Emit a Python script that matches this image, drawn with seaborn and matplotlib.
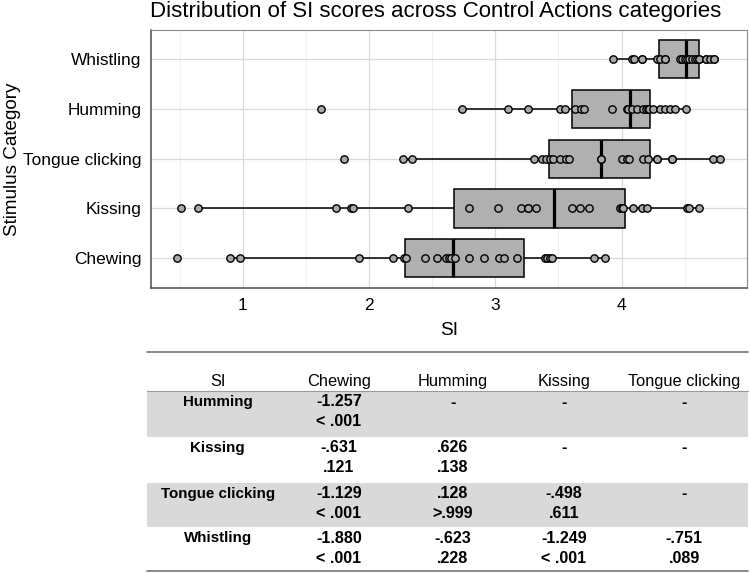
import matplotlib
matplotlib.use("Agg")
import matplotlib.pyplot as plt
from matplotlib.patches import Rectangle
from matplotlib.lines import Line2D
import seaborn as sns
import pandas as pd

# ---------------- data ----------------
categories = ["Whistling", "Humming", "Tongue clicking", "Kissing", "Chewing"]

whistling = [3.93, 4.08, 4.10, 4.16, 4.16, 4.28, 4.30, 4.34, 4.34, 4.46, 4.48, 4.50,
             4.52, 4.53, 4.56, 4.58, 4.60, 4.61, 4.61, 4.67, 4.67, 4.70, 4.73, 4.73]
humming = [1.62, 2.74, 3.10, 3.26, 3.51, 3.55, 3.63, 3.68, 3.70, 3.92, 4.04, 4.05,
           4.08, 4.12, 4.17, 4.19, 4.21, 4.22, 4.25, 4.30, 4.34, 4.38, 4.42, 4.51]
tongue_clicking = [1.80, 2.27, 2.34, 3.31, 3.37, 3.40, 3.43, 3.46, 3.51, 3.56, 3.58, 3.84,
                   3.84, 4.00, 4.04, 4.06, 4.17, 4.21, 4.28, 4.28, 4.40, 4.40, 4.72, 4.78]
kissing = [0.51, 0.65, 1.74, 1.86, 1.87, 2.31, 2.79, 3.02, 3.20, 3.26, 3.26, 3.32,
           3.61, 3.67, 3.74, 3.99, 4.00, 4.01, 4.09, 4.16, 4.20, 4.52, 4.53, 4.61]
chewing = [0.48, 0.90, 0.98, 1.92, 2.19, 2.28, 2.29, 2.44, 2.54, 2.61, 2.63, 2.65,
           2.68, 2.79, 2.91, 3.03, 3.07, 3.17, 3.39, 3.41, 3.43, 3.45, 3.78, 3.87]

x_ticks = [1, 2, 3, 4]
x_minor = [0.5, 1.5, 2.5, 3.5, 4.5]

title_text = "Distribution of SI scores across Control Actions categories"
x_label = "SI"
y_label = "Stimulus Category"

table_header = ["SI", "Chewing", "Humming", "Kissing", "Tongue clicking"]
table_rows = ["Humming", "Kissing", "Tongue clicking", "Whistling"]
table_estimates = [["-1.257", "-", "-", "-"],
                   ["-.631", ".626", "-", "-"],
                   ["-1.129", ".128", "-.498", "-"],
                   ["-1.880", "-.623", "-1.249", "-.751"]]
table_pvalues = [["< .001", "", "", ""],
                 [".121", ".138", "", ""],
                 ["< .001", ">.999", ".611", ""],
                 ["< .001", ".228", "< .001", ".089"]]

series = {"Whistling": whistling, "Humming": humming, "Tongue clicking": tongue_clicking,
          "Kissing": kissing, "Chewing": chewing}
df = pd.DataFrame([(c, v) for c in categories for v in series[c]], columns=["cat", "SI"])

# ---------------- figure ----------------
sns.set_theme(style="white")
plt.rcParams["font.family"] = ["Liberation Sans", "DejaVu Sans"]
plt.rcParams["text.color"] = "black"
plt.rcParams["axes.labelcolor"] = "black"
plt.rcParams["xtick.color"] = "black"
plt.rcParams["ytick.color"] = "black"

W, H = 750, 573
fig = plt.figure(figsize=(7.5, 5.73), dpi=100)

def fx(px):
    return px / W

def fy(py):
    return 1 - py / H

L, R, T, B = 150.7, 746.7, 29.5, 288.0
ax = fig.add_axes([fx(L), fy(B), fx(R) - fx(L), fy(T) - fy(B)])

sns.boxplot(data=df, x="SI", y="cat", order=categories, orient="h", ax=ax,
            color="#b0b0b0", saturation=1, width=0.77, showfliers=False,
            showcaps=False, linecolor="black", linewidth=1.1,
            medianprops={"linewidth": 2.3, "color": "black"}, zorder=2)
sns.stripplot(data=df, x="SI", y="cat", order=categories, orient="h", ax=ax,
              jitter=False, color="#a9a9a9", edgecolor="black", linewidth=1.0,
              size=5.3, zorder=3)

ax.set_xlim(0.272, 4.99)
ax.set_ylim(4.6, -0.6)
ax.set_xticks(x_ticks)
ax.set_xticks(x_minor, minor=True)
ax.set_xticklabels([str(t) for t in x_ticks])
ax.grid(True, which="major", color="#d9d9d9", linewidth=0.9, zorder=0)
ax.grid(True, which="minor", axis="x", color="#ececec", linewidth=0.6, zorder=0)
ax.set_axisbelow(True)

for s in ["top", "right"]:
    ax.spines[s].set_color("#8a8a8a")
    ax.spines[s].set_linewidth(0.8)
for s in ["left", "bottom"]:
    ax.spines[s].set_color("#4d4d4d")
    ax.spines[s].set_linewidth(1.1)

ax.tick_params(axis="both", which="major", length=4, width=0.9, color="#4d4d4d",
               labelsize=12.4, labelcolor="black", pad=2.5)
ax.tick_params(axis="x", which="major", pad=3.5)
ax.tick_params(axis="x", which="minor", length=0)
ax.set_xlabel(x_label, fontsize=13.8, labelpad=6)
ax.set_ylabel(y_label, fontsize=13.6)
ax.yaxis.set_label_coords((21.5 - L) / (R - L), 0.5)

fig.text(fx(150), fy(16.9), title_text, fontsize=16, ha="left", va="baseline")

# ---------------- table ----------------
tl, tr = 147, 748
col_x = [217.7, 339, 453, 564, 684]
header_y = 381.7
band_tops = [391, 436.7, 482.7, 527.3]
band_bottom = 570

for i, top in enumerate(band_tops):
    bot = band_tops[i + 1] if i + 1 < len(band_tops) else band_bottom
    if i % 2 == 0:
        fig.add_artist(Rectangle((fx(tl), fy(bot)), fx(tr) - fx(tl), fy(top) - fy(bot),
                                 transform=fig.transFigure, facecolor="#d9d9d9",
                                 edgecolor="none", zorder=0))

fig.add_artist(Line2D([fx(tl), fx(tr)], [fy(351.7)] * 2, color="#7f7f7f", linewidth=1.3))
fig.add_artist(Line2D([fx(tl), fx(tr)], [fy(391)] * 2, color="#9a9a9a", linewidth=0.8))
fig.add_artist(Line2D([fx(tl), fx(tr)], [fy(570.5)] * 2, color="#7f7f7f", linewidth=1.3))

for x, h in zip(col_x, table_header):
    fig.text(fx(x), fy(header_y), h, fontsize=11.8, ha="center", va="center")

for i, (lab, top) in enumerate(zip(table_rows, band_tops)):
    y1, y2 = top + 11.0, top + 30.8
    fig.text(fx(col_x[0]), fy(y1), lab, fontsize=10.9, fontweight="bold",
             ha="center", va="center")
    for j in range(4):
        fig.text(fx(col_x[j + 1]), fy(y1), table_estimates[i][j], fontsize=11.6,
                 fontweight="bold", ha="center", va="center")
        if table_pvalues[i][j]:
            fig.text(fx(col_x[j + 1]), fy(y2), table_pvalues[i][j], fontsize=11.6,
                     fontweight="bold", ha="center", va="center")

fig.savefig("out.png", dpi=100)
